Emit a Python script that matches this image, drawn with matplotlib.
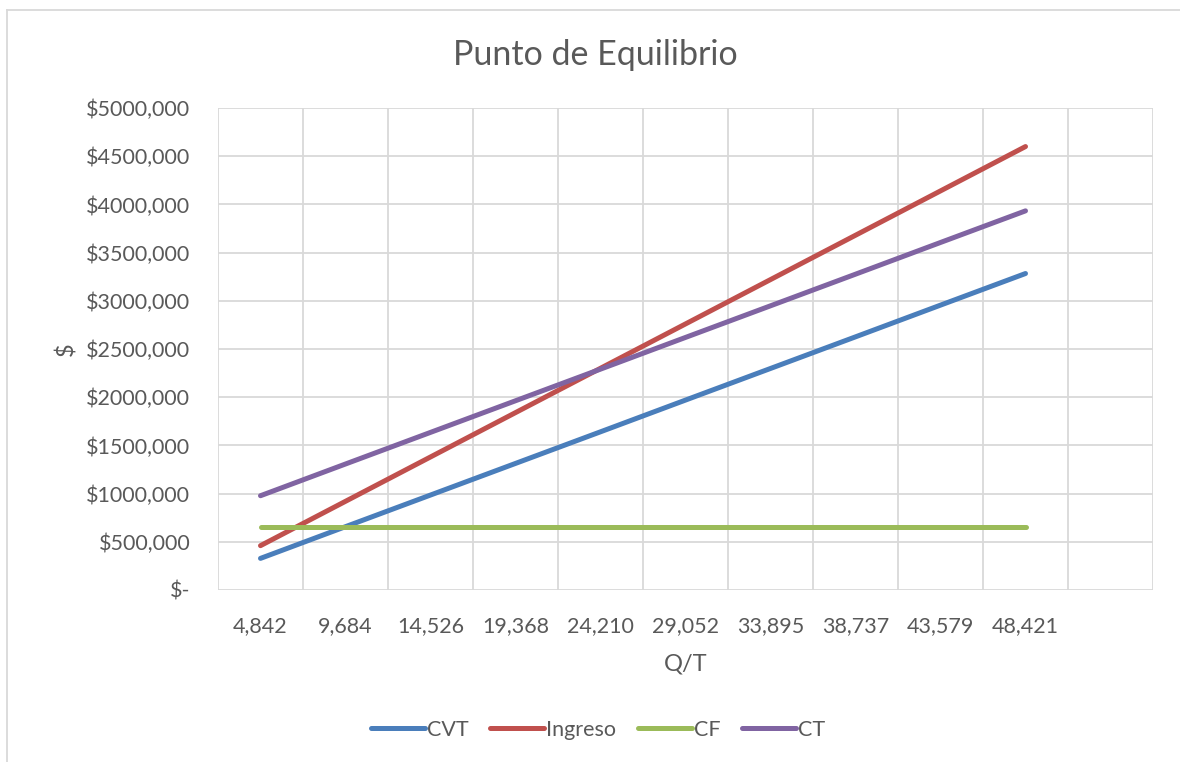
import numpy as np
import matplotlib.pyplot as plt
from matplotlib.lines import Line2D

# data
cantidades = ["4,842", "9,684", "14,526", "19,368", "24,210",
              "29,052", "33,895", "38,737", "43,579", "48,421"]
cvt = [328000, 657000, 985000, 1313000, 1641000, 1970000, 2298000, 2626000, 2955000, 3283000]
ingreso = [460000, 920000, 1380000, 1840000, 2300000, 2760000, 3220000, 3680000, 4140000, 4600000]
cf = [650000] * 10
ct = [978000, 1307000, 1635000, 1963000, 2291000, 2620000, 2948000, 3276000, 3605000, 3933000]

y_ticks = [0, 500000, 1000000, 1500000, 2000000, 2500000, 3000000, 3500000, 4000000, 4500000, 5000000]
y_labels = ["$-", "$500,000", "$1000,000", "$1500,000", "$2000,000", "$2500,000",
            "$3000,000", "$3500,000", "$4000,000", "$4500,000", "$5000,000"]

series = [("CVT", cvt, "#4A7EBB"), ("Ingreso", ingreso, "#C0504D"),
          ("CF", cf, "#9BBB59"), ("CT", ct, "#8064A2")]

plt.rcParams['font.family'] = ['Lato', 'DejaVu Sans']
txt = "#595959"
grid = "#D9D9D9"

fig = plt.figure(figsize=(11.8, 7.62), dpi=100)
ax = fig.add_axes([218 / 1180, 1 - 590 / 762, (1153 - 218) / 1180, (590 - 108) / 762])

x = np.arange(len(cantidades)) + 0.5
for name, vals, col in series:
    ax.plot(x, vals, color=col, lw=3.6, solid_capstyle='round', label=name, zorder=3)

ax.set_xlim(0, 11)
ax.set_ylim(0, 5000000)
ax.set_xticks(np.arange(0, 12), minor=False)
ax.set_xticklabels([])
ax.set_xticks(x, minor=True)
ax.set_xticklabels(cantidades, minor=True, fontsize=15.5, color=txt)
ax.set_yticks(y_ticks)
ax.set_yticklabels(y_labels, fontsize=15.5, color=txt)
ax.tick_params(axis='y', which='both', length=0, pad=20)
ax.tick_params(axis='x', which='both', length=0, pad=19)
ax.grid(True, which='major', color=grid, lw=1.3, zorder=0)
for s in ax.spines.values():
    s.set_visible(False)

ax.set_xlabel("Q/T", fontsize=17, color=txt, labelpad=12)
ax.set_ylabel("$", fontsize=17, color=txt, labelpad=6)
fig.text(595 / 1180, 1 - 55 / 762, "Punto de Equilibrio", fontsize=24.5, color=txt,
         ha='center', va='center')

handles = [Line2D([0], [0], color=c, lw=3.6, solid_capstyle='round') for _, _, c in series]
fig.legend(handles, [n for n, _, _ in series], loc='center', bbox_to_anchor=(598 / 1180, 1 - 730 / 762),
           ncol=4, frameon=False, fontsize=15.5, labelcolor=txt, handlelength=2.5,
           handletextpad=0.1, columnspacing=1.0)

# chart area border (left and top only visible)
fig.add_artist(Line2D([7 / 1180, 7 / 1180], [0, 1 - 10 / 762], color=grid, lw=1.3))
fig.add_artist(Line2D([7 / 1180, 1], [1 - 10 / 762, 1 - 10 / 762], color=grid, lw=1.3))

fig.savefig("out.png", dpi=100)
